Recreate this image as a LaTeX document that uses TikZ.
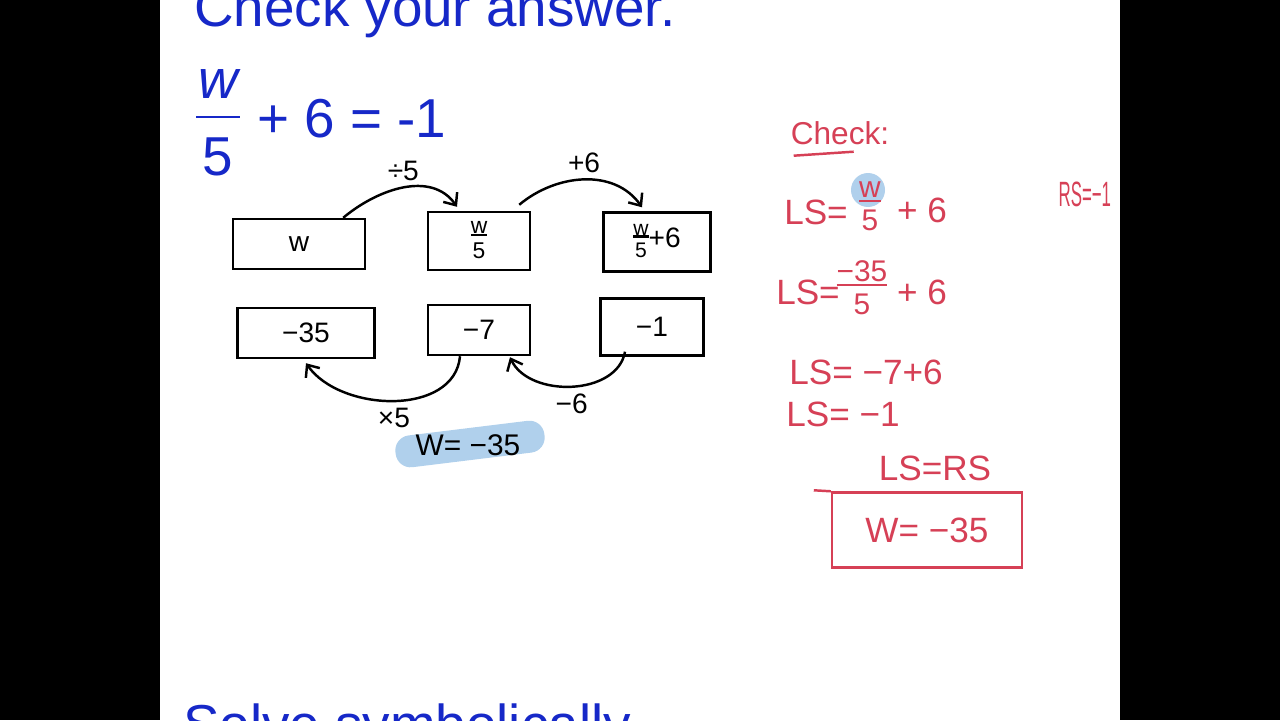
\documentclass[tikz,border=0pt]{standalone}
\usepackage{fontspec}
\setmainfont{Liberation Sans}
\usetikzlibrary{positioning, arrows.meta, calc}

\definecolor{slideblue}{RGB}{22,40,200}
\definecolor{penred}{RGB}{214,64,86}
\definecolor{hilite}{RGB}{176,208,236}

% stacked handwritten fraction
\newcommand{\hfrac}[2]{\setlength{\arrayrulewidth}{1.2pt}\begin{tabular}{@{}c@{}}#1\\[-4pt]\hline\rule{0pt}{0.95em}#2\end{tabular}}

\begin{document}
\begin{tikzpicture}[
    x=0.02cm, y=0.02cm,
    line width=1.4pt,
    slot/.style={draw, inner sep=0pt, font=\fontsize{16}{18}\selectfont},
    flow/.style={-{Straight Barb[length=2mm, width=3.4mm]}},
    hand/.style={font=\fontsize{16}{18}\selectfont},
    redpen/.style={text=penred, font=\fontsize{20}{22}\selectfont},
    slide/.style={text=slideblue, font=\fontsize{31.2}{36}\selectfont}
]{
    \useasboundingbox (0,0) rectangle (1280,-720);
    \clip (0,0) rectangle (1280,-720);
    \fill[white] (0,0) rectangle (1280,-720);

    % Slide text
    \node[slide, anchor=base west](title) at (187,-27){Check your answer.};
    \node[slide](eq_w) at (218,-84){\itshape w};
    \node[slide](eq_five) at (218,-157){5};
    \draw[slideblue, line width=1.7pt] (196,-117) -- (240,-117);
    \node[slide, anchor=base west](eq_rest) at (250,-137){+ 6 = -1};
    \node[slide, anchor=base west](next_title) at (176,-743){Solve symbolically};

    % Forward boxes
    \node[slot, minimum width=26.4mm, minimum height=10mm](w_box) at (299,-244){w};
    \node[slot, minimum width=20.4mm, minimum height=11.6mm, font=\fontsize{13}{14}\selectfont](div_box) at (479,-241){\hfrac{w}{5}};
    \node[slot, minimum width=21.4mm, minimum height=11.8mm, font=\fontsize{12}{13}\selectfont](add_box) at (657,-242){\hfrac{w}{5}{\fontsize{16}{17}\selectfont +6}};

    % Backward boxes
    \node[slot, minimum width=27.4mm, minimum height=10mm](times_box) at (306,-333){−35};
    \node[slot, minimum width=20.4mm, minimum height=10mm](seven_box) at (479,-330){−7};
    \node[slot, minimum width=20.6mm, minimum height=11.4mm](one_box) at (652,-327){−1};

    \draw[flow]($(w_box.north east)+(-23,0)$) to[out=40, in=125] node[above, hand]{÷5} ($(div_box.north)+(-22,4)$);
    \draw[flow]($(div_box.north east)+(-12,6)$) to[out=40, in=125] node[above, hand]{+6} ($(add_box.north)+(-15,4)$);
    \draw[flow]($(seven_box.south)+(-19,0)$) to[out=-95, in=-55] node[below, hand]{×5} ($(times_box.south)+(0,-4)$);
    \draw[flow]($(one_box.south)+(-27,5)$) to[out=-100, in=-65] node[below, hand]{−6} ($(seven_box.south)+(31,-1)$);

    \node[fill=hilite, rounded corners=3mm, minimum width=30mm, minimum height=6.4mm, rotate=7](solution_mark) at (470,-444){};
    \node[hand, font=\fontsize{17}{18}\selectfont](solution) at (468,-445){W= −35};

    % Check
    \node[redpen, font=\fontsize{18}{20}\selectfont](check) at (840,-133){Check:};
    \draw[penred]($(check.south west)+(10,-4)$) -- ++(60,4);

    \node[circle, fill=hilite, minimum size=6.8mm](w_mark) at (868,-190){};
    \node[redpen](ls_a) at (816,-212){LS=};
    \node[redpen, font=\fontsize{17}{18}\selectfont](frac_a) at (870,-208){\hfrac{w}{5}};
    \node[redpen](plus_a) at (922,-210){+ 6};
    \node[redpen, anchor=west, xscale=0.48, inner sep=0pt](rs) at (1058,-194){RS=−1};

    \node[redpen](ls_b) at (808,-292){LS=};
    \node[redpen, font=\fontsize{17}{18}\selectfont](frac_b) at (862,-292){\hfrac{−35}{5}};
    \node[redpen](plus_b) at (922,-292){+ 6};

    \node[redpen](ls_c) at (866,-372){LS= −7+6};
    \node[redpen](ls_d) at (843,-414){LS= −1};
    \node[redpen](ls_rs) at (935,-468){LS=RS};

    \node[draw=penred, redpen, minimum width=38mm, minimum height=15mm](answer) at (927,-530){W= −35};
    \draw[penred]($(answer.north west)+(-17,1)$) -- (answer.north west);

    % Letterbox
    \fill[black] (0,0) rectangle (160,-720);
    \fill[black] (1120,0) rectangle (1280,-720);
}
\end{tikzpicture}
\end{document}
